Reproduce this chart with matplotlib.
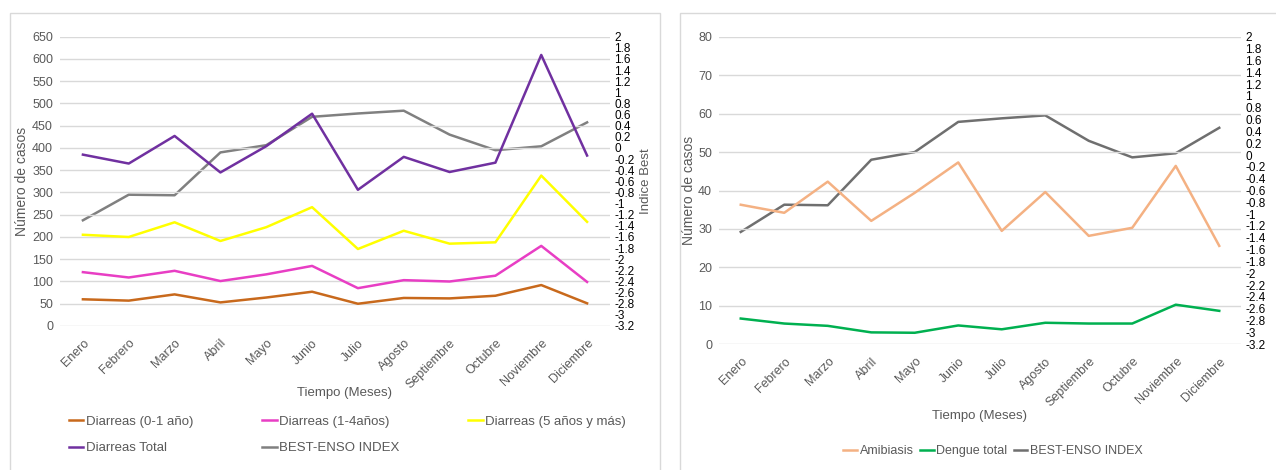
import matplotlib
matplotlib.use('Agg')
import matplotlib.pyplot as plt
import numpy as np
from matplotlib.patches import Rectangle

plt.rcParams['font.family'] = ['Liberation Sans', 'DejaVu Sans']

meses = ['Enero', 'Febrero', 'Marzo', 'Abril', 'Mayo', 'Junio', 'Julio',
         'Agosto', 'Septiembre', 'Octubre', 'Noviembre', 'Diciembre']

diarreas_0_1 = [60, 57, 71, 53, 64, 77, 50, 63, 62, 68, 92, 51]
diarreas_1_4 = [121, 109, 124, 101, 116, 135, 85, 103, 100, 113, 180, 99]
diarreas_5 = [205, 200, 233, 191, 222, 267, 173, 214, 185, 188, 338, 234]
diarreas_total = [385, 365, 427, 345, 404, 477, 306, 380, 346, 367, 609, 383]
amibiasis = [36.3, 34.2, 42.3, 32.1, 39.4, 47.3, 29.5, 39.6, 28.2, 30.3, 46.4, 25.6]
dengue = [6.7, 5.4, 4.8, 3.1, 3.0, 4.9, 3.9, 5.6, 5.4, 5.4, 10.3, 8.7]
best_enso = [-1.30, -0.84, -0.85, -0.08, 0.05, 0.56, 0.62, 0.67, 0.24, -0.04, 0.03, 0.46]

gris = '#595959'
W, H = 1276, 470
fig = plt.figure(figsize=(W / 100, H / 100), dpi=100)

# marcos de los dos graficos
fig.patches.append(Rectangle((10 / W, -0.1), 650 / W, 1.1 - 13 / H, transform=fig.transFigure,
                             fill=False, edgecolor='#d9d9d9', lw=1))
fig.patches.append(Rectangle((680 / W, -0.1), 700 / W, 1.1 - 13 / H, transform=fig.transFigure,
                             fill=False, edgecolor='#d9d9d9', lw=1))


def fmt(v):
    v = round(v, 1)
    if v == 0:
        return '0'
    return '%g' % v


def base(ax, axr, ymax, ystep):
    x = np.arange(len(meses))
    ax.set_xlim(-0.5, len(meses) - 0.5)
    ax.set_ylim(0, ymax)
    ax.set_yticks(np.arange(0, ymax + 1, ystep))
    ax.yaxis.grid(True, color='#d9d9d9', lw=1)
    ax.set_axisbelow(True)
    for s in ax.spines.values():
        s.set_visible(False)
    for s in axr.spines.values():
        s.set_visible(False)
    ax.set_xticks(x)
    ax.set_xticklabels(meses, rotation=45, ha='right', rotation_mode='anchor', fontsize=8, color=gris)
    ax.tick_params(axis='both', length=0, labelcolor=gris, labelsize=9)
    ax.tick_params(axis='x', pad=8)
    ax.tick_params(axis='y', pad=5)
    axr.set_ylim(-3.2, 2)
    rt = np.round(np.arange(-3.2, 2.01, 0.2), 1)
    axr.set_yticks(rt)
    axr.set_yticklabels([fmt(v) for v in rt], fontsize=8.5, color='black')
    axr.tick_params(axis='y', length=0, pad=3)
    return x


# ---- grafico izquierdo
ax1 = fig.add_axes([60 / W, 1 - 326 / H, 550 / W, (326 - 36.7) / H])
ax1r = ax1.twinx()
x = base(ax1, ax1r, 650, 50)
l1, = ax1.plot(x, diarreas_0_1, color='#C8691C', lw=1.8, label='Diarreas (0-1 año)')
l2, = ax1.plot(x, diarreas_1_4, color='#E83EC4', lw=1.8, label='Diarreas (1-4años)')
l3, = ax1.plot(x, diarreas_5, color='#FFFF00', lw=1.8, label='Diarreas (5 años y más)')
l4, = ax1.plot(x, diarreas_total, color='#7030A0', lw=1.8, label='Diarreas Total')
l5, = ax1r.plot(x, best_enso, color='#808080', lw=1.8, label='BEST-ENSO INDEX')
ax1.set_zorder(ax1r.get_zorder() + 1)
ax1.patch.set_visible(False)
ax1.set_ylabel('Número de casos', fontsize=10, color=gris)
ax1.yaxis.set_label_coords(-0.056, 0.5)
ax1.set_xlabel('Tiempo (Meses)', fontsize=9.5, color=gris)
ax1.xaxis.set_label_coords(0.518, -0.21)
ax1r.set_ylabel('Indice Best', fontsize=9.5, color=gris)
ax1r.yaxis.set_label_coords(1.054, 0.5)
fig.legend([l1, l4, l2, l5, l3], [h.get_label() for h in [l1, l4, l2, l5, l3]],
           ncol=3, loc='upper left', bbox_to_anchor=(57 / W, 1 - 404 / H), frameon=False,
           fontsize=9.5, labelcolor=gris, handlelength=1.1, handletextpad=0.2,
           columnspacing=5.2, labelspacing=1.05)

# ---- grafico derecho
ax2 = fig.add_axes([719 / W, 1 - 344.3 / H, 522 / W, (344.3 - 36.7) / H])
ax2r = ax2.twinx()
x = base(ax2, ax2r, 80, 10)
m1, = ax2.plot(x, amibiasis, color='#F4B183', lw=1.8, label='Amibiasis')
m2, = ax2.plot(x, dengue, color='#00B050', lw=1.8, label='Dengue total')
m3, = ax2r.plot(x, best_enso, color='#6F6F6F', lw=1.8, label='BEST-ENSO INDEX')
ax2.set_zorder(ax2r.get_zorder() + 1)
ax2.patch.set_visible(False)
ax2.set_ylabel('Número de casos', fontsize=10, color=gris)
ax2.yaxis.set_label_coords(-0.045, 0.5)
ax2.set_xlabel('Tiempo (Meses)', fontsize=9.5, color=gris)
ax2.xaxis.set_label_coords(0.5, -0.215)
ax2r.set_ylabel('Indice Best', fontsize=9.5, color=gris)
ax2r.yaxis.set_label_coords(1.075, 0.5)
fig.legend([m1, m2, m3], [h.get_label() for h in [m1, m2, m3]],
           ncol=3, loc='center', bbox_to_anchor=(993 / W, 1 - 451 / H), frameon=False,
           fontsize=9, labelcolor=gris, handlelength=1.1, handletextpad=0.2,
           columnspacing=0.5)

fig.savefig('out.png', dpi=100)
